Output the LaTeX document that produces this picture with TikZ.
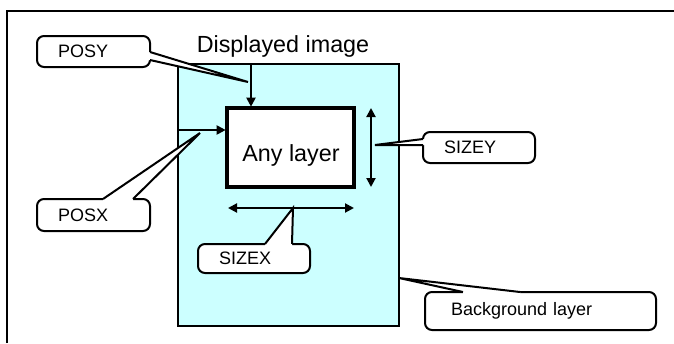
\documentclass[tikz,border=0pt]{standalone}
\usepackage{fontspec}
\setmainfont{Liberation Sans}
\usetikzlibrary{arrows.meta,calc}
\definecolor{bgcyan}{RGB}{204,255,255}

% wedge of a callout: base point a, tip, base point b, shift into the box
\newcommand\calloutwedge[4]{%
  \fill[white] #1 -- #2 -- #3 -- ($#3+#4$) -- ($#1+#4$) -- cycle;
  \draw[wedge] #1 -- #2 -- #3;}

\begin{document}
% one unit = 0.75pt
\begin{tikzpicture}[x=0.75pt,y=-0.75pt,
  frame/.style={line width=1.5pt},
  bglayer/.style={draw, line width=1.8pt, fill=bgcyan, inner sep=0pt, outer sep=0pt, anchor=north west},
  anylayer/.style={draw, line width=3pt, fill=white, inner sep=0pt, outer sep=0pt, anchor=north west},
  bigtext/.style={font=\fontsize{17.5}{20}\selectfont, inner sep=0pt, anchor=base},
  arr/.style={line width=1.5pt, -{Triangle[length=6.75pt,width=6.75pt]}, shorten >=1pt},
  darr/.style={line width=1.5pt, {Triangle[length=6.75pt,width=6.75pt]}-{Triangle[length=6.75pt,width=6.75pt]}},
  callout/.style={draw, line width=1.5pt, fill=white, rounded corners=5.25pt,
    inner ysep=0pt, inner xsep=15.75pt, outer sep=0pt, align=left, anchor=north west,
    font=\fontsize{13.5}{16}\selectfont},
  wedge/.style={line width=1.5pt, line join=miter}]

\useasboundingbox (0,0) rectangle (674,343);

% outer frame (only its top and left sides fall inside the picture)
\draw[frame] (6.5,343) -- (6.5,10.5) -- (674,10.5);

% background layer and the layer placed on it
\node[bglayer, minimum width=165.75pt, minimum height=196.5pt] (bg) at (178,64) {};
\node[bigtext] (title) at (283,52) {Displayed image};
\node[anylayer, minimum width=95.25pt, minimum height=59.25pt] (any) at (227,108) {};
\node[bigtext] (anytxt) at (291,161) {Any layer};

% position and size arrows
\coordinate (yin) at ($(any.north west)+(24,0)$);
\draw[arr] (yin |- bg.north) -- (yin);
\coordinate (xin) at ($(any.north west)+(0,22)$);
\draw[arr] (xin -| bg.west) -- (xin);
\coordinate (syc) at ($(any.north east)+(17,0)$);
\draw[darr] (syc) -- (syc |- any.south);
\coordinate (sxc) at ($(any.south west)+(1,21)$);
\draw[darr] (sxc) -- (sxc -| any.east);

% callouts
\node[callout, minimum width=84.75pt, minimum height=23.25pt, text width=53.25pt] (posy) at (37,36) {POSY};
\node[callout, minimum width=84.75pt, minimum height=24pt, text width=53.25pt] (posx) at (37,199) {POSX};
\node[callout, minimum width=84pt, minimum height=21.75pt, text width=52.5pt] (sizex) at (198,244) {SIZEX};
\node[callout, minimum width=84pt, minimum height=23.25pt, text width=52.5pt] (sizey) at (423,132) {SIZEY};
\node[callout, minimum width=173.25pt, minimum height=28.5pt, inner xsep=19.5pt, text width=134.25pt] (bgl) at (425,292) {Background layer};

% callout pointers
\coordinate (pyA) at ($(posy.north east)+(0,16)$);
\coordinate (pyB) at ($(posy.north east)+(0,24)$);
\coordinate (pyT) at ($(yin)+(-3,-26)$);
\calloutwedge{(pyA)}{(pyT)}{(pyB)}{(-3,0)}

\coordinate (pxA) at ($(posx.north west)+(66,0)$);
\coordinate (pxB) at ($(posx.north west)+(96,0)$);
\coordinate (pxT) at ($(xin -| bg.west)+(22,3)$);
\calloutwedge{(pxA)}{(pxT)}{(pxB)}{(0,3)}

\coordinate (sxA) at ($(sizex.north west)+(67,0)$);
\coordinate (sxB) at ($(sizex.north west)+(94,0)$);
\coordinate (sxT) at ($(sxc)+(65,0)$);
\calloutwedge{(sxA)}{(sxT)}{(sxB)}{(0,3)}

\coordinate (syA) at ($(sizey.north west)+(0,7)$);
\coordinate (syB) at ($(sizey.north west)+(0,13)$);
\coordinate (syT) at ($(syc)+(4,37)$);
\calloutwedge{(syA)}{(syT)}{(syB)}{(3,0)}

\coordinate (bgA) at ($(bgl.north west)+(38,0)$);
\coordinate (bgB) at ($(bgl.north west)+(95,0)$);
\coordinate (bgT) at ($(bg.north east)+(0,214)$);
\calloutwedge{(bgA)}{(bgT)}{(bgB)}{(0,3)}

\end{tikzpicture}
\end{document}
